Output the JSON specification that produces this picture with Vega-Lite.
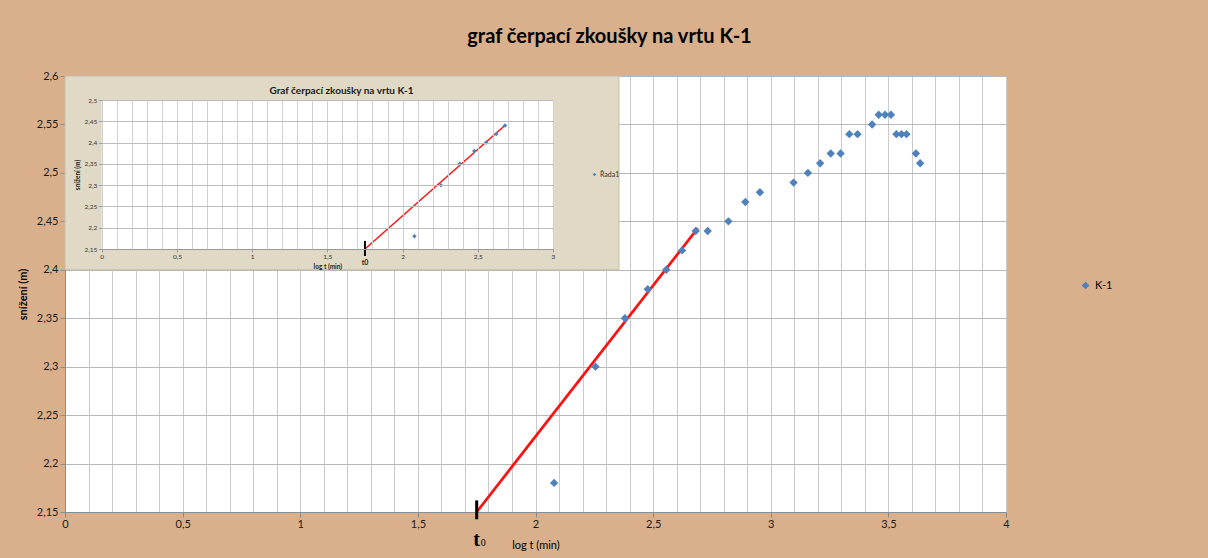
{
  "$schema": "https://vega.github.io/schema/vega-lite/v6.json",
  "width": 941,
  "height": 436,
  "autosize": "none",
  "padding": {"left": 65, "top": 76, "right": 202, "bottom": 46},
  "background": "#D9B08B",
  "title": {"text": "graf čerpací zkoušky na vrtu K-1", "font": "Lato", "fontSize": 20, "fontWeight": "bold", "color": "#000000", "anchor": "middle", "dx": 74, "offset": 23},
  "config": {
    "view": {"fill": "#FFFFFF", "stroke": null},
    "font": "Lato",
    "axis": {"labelFont": "Lato", "titleFont": "Lato"},
    "legend": {"labelFont": "Lato"}
  },
  "resolve": {"scale": {"x": "independent", "y": "independent", "color": "independent"}, "legend": {"color": "independent"}},
  "layer": [
    {
      "resolve": {"axis": {"x": "independent", "y": "independent"}},
      "layer": [
        {
          "data": {"values": [{"t": 0, "t2": 2.355, "s": 2.4, "s2": 2.6}]},
          "mark": {"type": "rect", "fill": "#DFD9C6", "stroke": "#C4BDA8", "strokeWidth": 1},
          "encoding": {
            "x": {"field": "t", "type": "quantitative", "scale": {"domain": [0, 4], "nice": false, "zero": false},
              "axis": {"orient": "bottom", "values": [0,0.1,0.2,0.3,0.4,0.5,0.6,0.7,0.8,0.9,1,1.1,1.2,1.3,1.4,1.5,1.6,1.7,1.8,1.9,2,2.1,2.2,2.3,2.4,2.5,2.6,2.7,2.8,2.9,3,3.1,3.2,3.3,3.4,3.5,3.6,3.7,3.8,3.9,4],
                "format": "~g", "labelExpr": "abs(datum.value*2-round(datum.value*2))<0.001 ? replace(datum.label,'.',',') : ''",
                "grid": true, "gridColor": "#CBCBCB", "gridWidth": 1, "domainColor": "#8C8C8C", "tickColor": "#8C8C8C", "tickSize": 5,
                "tickOpacity": {"condition": {"test": "abs(datum.value*2-round(datum.value*2))<0.001", "value": 1}, "value": 0},
                "labelFontSize": 11, "labelColor": "#1A1A1A", "labelPadding": 1, "labelFlush": false, "labelOverlap": false,
                "title": "log t (min)", "titleFontSize": 11, "titleFontWeight": "normal", "titleColor": "#000000", "titlePadding": 10}},
            "x2": {"field": "t2"},
            "y": {"field": "s", "type": "quantitative", "scale": {"domain": [2.15, 2.6], "nice": false, "zero": false},
              "axis": {"orient": "left", "values": [2.15,2.2,2.25,2.3,2.35,2.4,2.45,2.5,2.55,2.6], "format": "~g", "labelExpr": "replace(datum.label,'.',',')",
                "grid": true, "gridColor": "#B8B8B8", "domainColor": "#8C8C8C", "tickColor": "#8C8C8C", "tickSize": 5,
                "labelFontSize": 11, "labelColor": "#1A1A1A", "labelPadding": 2,
                "title": "snížení (m)", "titleFontSize": 11, "titleFontWeight": "bold", "titleColor": "#000000", "titlePadding": 8}},
            "y2": {"field": "s2"}
          }
        },
        {
          "data": {"values": [{"t": 1.75, "s": 2.15}, {"t": 2.69, "s": 2.443}]},
          "mark": {"type": "line", "color": "#FF1010", "strokeWidth": 2.7},
          "encoding": {
            "x": {"field": "t", "type": "quantitative", "scale": {"domain": [0, 4], "nice": false, "zero": false}, "axis": null},
            "y": {"field": "s", "type": "quantitative", "scale": {"domain": [2.15, 2.6], "nice": false, "zero": false}, "axis": null}
          }
        },
        {
          "data": {"values": [
            {"t": 2.079, "s": 2.18, "series": "K-1"},
            {"t": 2.255, "s": 2.30, "series": "K-1"},
            {"t": 2.380, "s": 2.35, "series": "K-1"},
            {"t": 2.477, "s": 2.38, "series": "K-1"},
            {"t": 2.556, "s": 2.40, "series": "K-1"},
            {"t": 2.623, "s": 2.42, "series": "K-1"},
            {"t": 2.681, "s": 2.44, "series": "K-1"},
            {"t": 2.732, "s": 2.44, "series": "K-1"},
            {"t": 2.820, "s": 2.45, "series": "K-1"},
            {"t": 2.892, "s": 2.47, "series": "K-1"},
            {"t": 2.954, "s": 2.48, "series": "K-1"},
            {"t": 3.097, "s": 2.49, "series": "K-1"},
            {"t": 3.158, "s": 2.50, "series": "K-1"},
            {"t": 3.210, "s": 2.51, "series": "K-1"},
            {"t": 3.255, "s": 2.52, "series": "K-1"},
            {"t": 3.297, "s": 2.52, "series": "K-1"},
            {"t": 3.334, "s": 2.54, "series": "K-1"},
            {"t": 3.369, "s": 2.54, "series": "K-1"},
            {"t": 3.431, "s": 2.55, "series": "K-1"},
            {"t": 3.459, "s": 2.56, "series": "K-1"},
            {"t": 3.486, "s": 2.56, "series": "K-1"},
            {"t": 3.511, "s": 2.56, "series": "K-1"},
            {"t": 3.534, "s": 2.54, "series": "K-1"},
            {"t": 3.556, "s": 2.54, "series": "K-1"},
            {"t": 3.577, "s": 2.54, "series": "K-1"},
            {"t": 3.617, "s": 2.52, "series": "K-1"},
            {"t": 3.635, "s": 2.51, "series": "K-1"}
          ]},
          "mark": {"type": "point", "shape": "diamond", "filled": true, "size": 70, "opacity": 1},
          "encoding": {
            "x": {"field": "t", "type": "quantitative", "scale": {"domain": [0, 4], "nice": false, "zero": false}, "axis": null},
            "y": {"field": "s", "type": "quantitative", "scale": {"domain": [2.15, 2.6], "nice": false, "zero": false}, "axis": null},
            "color": {"field": "series", "type": "nominal", "scale": {"domain": ["K-1"], "range": ["#4F81BD"]},
              "legend": {"orient": "none", "legendX": 1015, "legendY": 204, "title": null, "symbolType": "diamond", "symbolSize": 60, "symbolStrokeWidth": 0, "labelFontSize": 11, "labelColor": "#000000", "padding": 0, "labelOffset": 4}}
          }
        },
        {
          "data": {"values": [{"t": 1.75, "s": 2.1425, "s2": 2.162}]},
          "mark": {"type": "rule", "color": "#000000", "strokeWidth": 3},
          "encoding": {
            "x": {"field": "t", "type": "quantitative", "scale": {"domain": [0, 4], "nice": false, "zero": false}, "axis": null},
            "y": {"field": "s", "type": "quantitative", "scale": {"domain": [2.15, 2.6], "nice": false, "zero": false}, "axis": null},
            "y2": {"field": "s2"}
          }
        },
        {
          "data": {"values": [{"t": 1.75, "s": 2.15, "sym": "t", "sub": "0"}]},
          "mark": {"type": "text", "font": "Liberation Serif", "fontSize": 20, "fontWeight": "bold", "color": "#000000", "align": "center", "baseline": "alphabetic", "dy": 34},
          "encoding": {
            "x": {"field": "t", "type": "quantitative", "scale": {"domain": [0, 4], "nice": false, "zero": false}, "axis": null},
            "y": {"field": "s", "type": "quantitative", "scale": {"domain": [2.15, 2.6], "nice": false, "zero": false}, "axis": null},
            "text": {"field": "sym"}
          }
        },
        {
          "data": {"values": [{"t": 1.75, "s": 2.15, "sym": "t", "sub": "0"}]},
          "mark": {"type": "text", "font": "Liberation Serif", "fontSize": 10, "color": "#000000", "align": "left", "baseline": "alphabetic", "dx": 4, "dy": 34},
          "encoding": {
            "x": {"field": "t", "type": "quantitative", "scale": {"domain": [0, 4], "nice": false, "zero": false}, "axis": null},
            "y": {"field": "s", "type": "quantitative", "scale": {"domain": [2.15, 2.6], "nice": false, "zero": false}, "axis": null},
            "text": {"field": "sub"}
          }
        }
      ]
    },
    {
      "resolve": {"axis": {"x": "independent", "y": "independent"}},
      "layer": [
        {
          "data": {"values": [{"t": 0, "t2": 3, "s": 2.15, "s2": 2.5}]},
          "mark": {"type": "rect", "fill": "#FFFFFF"},
          "encoding": {
            "x": {"field": "t", "type": "quantitative", "scale": {"domain": [0, 3], "range": [36.7, 488], "nice": false, "zero": false},
              "axis": {"orient": "top", "offset": -24, "values": [0,0.1,0.2,0.3,0.4,0.5,0.6,0.7,0.8,0.9,1,1.1,1.2,1.3,1.4,1.5,1.6,1.7,1.8,1.9,2,2.1,2.2,2.3,2.4,2.5,2.6,2.7,2.8,2.9,3],
                "grid": true, "gridColor": "#D2D2D2", "labels": false, "ticks": false, "domain": false,
                "title": "Graf čerpací zkoušky na vrtu K-1", "titleFontSize": 10, "titleFontWeight": "bold", "titleColor": "#1A1A1A", "titlePadding": 5, "titleX": 276, "zindex": 1}},
            "x2": {"field": "t2"},
            "y": {"field": "s", "type": "quantitative", "scale": {"domain": [2.15, 2.5], "range": [173, 24], "nice": false, "zero": false},
              "axis": {"orient": "left", "offset": -36.7, "values": [2.15,2.2,2.25,2.3,2.35,2.4,2.45,2.5], "format": "~g", "labelExpr": "replace(datum.label,'.',',')",
                "grid": true, "gridColor": "#BDBDBD", "domain": false, "tickColor": "#999999", "tickSize": 3,
                "labelFontSize": 6.5, "labelColor": "#333333", "labelPadding": 2,
                "title": "snížení (m)", "titleFontSize": 6.5, "titleFontWeight": "bold", "titleColor": "#1A1A1A", "titlePadding": 3, "zindex": 1}},
            "y2": {"field": "s2"}
          }
        },
        {
          "data": {"values": [{"t": 1.75, "s": 2.15}, {"t": 2.68, "s": 2.44}]},
          "mark": {"type": "line", "color": "#FF1010", "strokeWidth": 1.5},
          "encoding": {
            "x": {"field": "t", "type": "quantitative", "scale": {"domain": [0, 3], "range": [36.7, 488], "nice": false, "zero": false},
              "axis": {"orient": "bottom", "offset": -263, "values": [0,0.5,1,1.5,2,2.5,3], "format": "~g", "labelExpr": "replace(datum.label,'.',',')",
                "grid": false, "domainColor": "#999999", "tickColor": "#999999", "tickSize": 3,
                "labelFontSize": 6.5, "labelColor": "#333333", "labelPadding": 1.5, "labelFlush": false, "labelOverlap": false,
                "title": "log t (min)", "titleFontSize": 6.5, "titleFontWeight": "bold", "titleColor": "#1A1A1A", "titlePadding": 3, "zindex": 1}},
            "y": {"field": "s", "type": "quantitative", "scale": {"domain": [2.15, 2.5], "range": [173, 24], "nice": false, "zero": false}, "axis": null}
          }
        },
        {
          "data": {"values": [
            {"t": 2.079, "s": 2.18, "series": "Řada1"},
            {"t": 2.255, "s": 2.30, "series": "Řada1"},
            {"t": 2.380, "s": 2.35, "series": "Řada1"},
            {"t": 2.477, "s": 2.38, "series": "Řada1"},
            {"t": 2.556, "s": 2.40, "series": "Řada1"},
            {"t": 2.623, "s": 2.42, "series": "Řada1"},
            {"t": 2.681, "s": 2.44, "series": "Řada1"}
          ]},
          "mark": {"type": "point", "shape": "diamond", "filled": true, "size": 20, "opacity": 1},
          "encoding": {
            "x": {"field": "t", "type": "quantitative", "scale": {"domain": [0, 3], "range": [36.7, 488], "nice": false, "zero": false}, "axis": null},
            "y": {"field": "s", "type": "quantitative", "scale": {"domain": [2.15, 2.5], "range": [173, 24], "nice": false, "zero": false}, "axis": null},
            "color": {"field": "series", "type": "nominal", "scale": {"domain": ["Řada1"], "range": ["#4F81BD"]},
              "legend": {"orient": "none", "legendX": 526, "legendY": 95, "title": null, "symbolType": "diamond", "symbolSize": 12, "symbolStrokeWidth": 0, "labelFontSize": 7, "labelColor": "#333333", "padding": 0, "labelOffset": 2}}
          }
        },
        {
          "data": {"values": [{"t": 1.75, "s": 2.1336, "s2": 2.169}]},
          "mark": {"type": "rule", "color": "#000000", "strokeWidth": 2},
          "encoding": {
            "x": {"field": "t", "type": "quantitative", "scale": {"domain": [0, 3], "range": [36.7, 488], "nice": false, "zero": false}, "axis": null},
            "y": {"field": "s", "type": "quantitative", "scale": {"domain": [2.15, 2.5], "range": [173, 24], "nice": false, "zero": false}, "axis": null},
            "y2": {"field": "s2"}
          }
        },
        {
          "data": {"values": [{"t": 1.75, "s": 2.15, "label": "t0"}]},
          "mark": {"type": "text", "fontSize": 7, "fontWeight": "bold", "color": "#1A1A1A", "align": "center", "baseline": "alphabetic", "dy": 16},
          "encoding": {
            "x": {"field": "t", "type": "quantitative", "scale": {"domain": [0, 3], "range": [36.7, 488], "nice": false, "zero": false}, "axis": null},
            "y": {"field": "s", "type": "quantitative", "scale": {"domain": [2.15, 2.5], "range": [173, 24], "nice": false, "zero": false}, "axis": null},
            "text": {"field": "label"}
          }
        }
      ]
    }
  ]
}
